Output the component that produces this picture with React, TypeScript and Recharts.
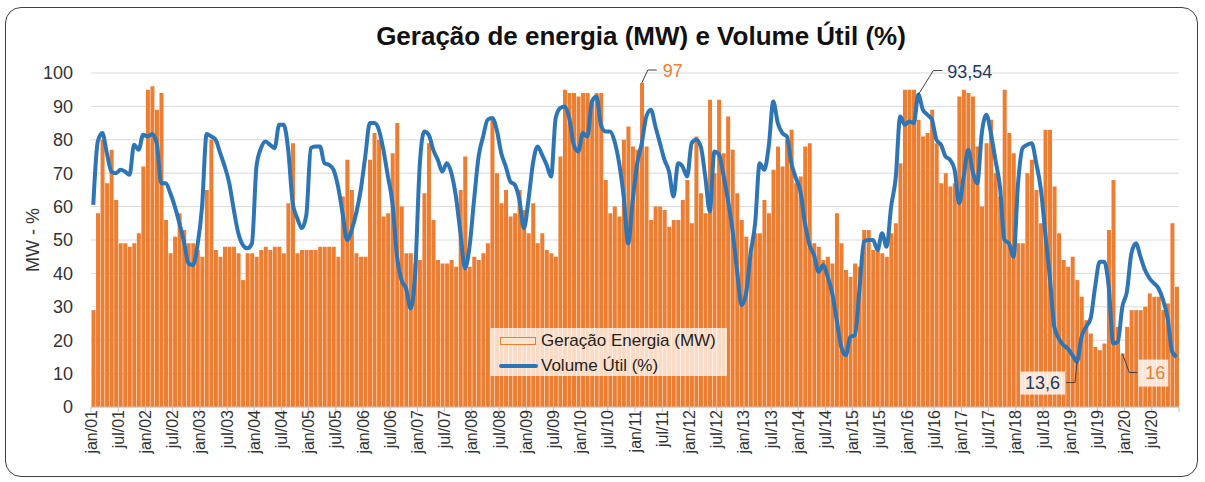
import {
	ComposedChart, Bar, Line, XAxis, YAxis, CartesianGrid, Legend, ReferenceDot, Label
} from 'recharts'

const meses = ['jan', 'fev', 'mar', 'abr', 'mai', 'jun', 'jul', 'ago', 'set', 'out', 'nov', 'dez']
const anos = ['01', '02', '03', '04', '05', '06', '07', '08', '09', '10',
	'11', '12', '13', '14', '15', '16', '17', '18', '19', '20']
const categorias = anos.flatMap(a => meses.map(m => `${m}/${a}`))

// Geração de energia (MW), um ano por linha
const geracao = [
	29, 58, 80, 67, 77, 62, 49, 49, 48, 49, 52, 72,
	95, 96, 89, 94, 56, 46, 51, 58, 53, 49, 49, 47,
	45, 65, 80, 47, 45, 48, 48, 48, 46, 38, 46, 46,
	45, 47, 48, 47, 48, 48, 46, 61, 79, 46, 47, 47,
	47, 47, 48, 48, 48, 48, 45, 63, 74, 65, 46, 45,
	45, 74, 82, 80, 57, 58, 76, 85, 60, 46, 46, 43,
	44, 64, 79, 56, 44, 43, 43, 44, 42, 65, 75, 42,
	45, 44, 46, 49, 86, 70, 61, 65, 57, 58, 65, 59,
	52, 61, 49, 52, 47, 46, 45, 75, 95, 94, 94, 93,
	94, 94, 92, 94, 94, 68, 58, 60, 57, 80, 84, 78,
	77, 97, 78, 56, 60, 60, 59, 54, 56, 56, 62, 68,
	55, 81, 64, 58, 92, 70, 92, 76, 87, 77, 64, 56,
	51, 46, 52, 52, 62, 58, 71, 78, 72, 80, 83, 67,
	69, 78, 79, 49, 48, 44, 45, 43, 58, 49, 41, 39,
	43, 42, 53, 53, 47, 47, 46, 45, 52, 55, 73, 95,
	95, 95, 86, 81, 82, 89, 79, 67, 70, 66, 67, 93,
	95, 94, 93, 78, 60, 79, 86, 70, 63, 95, 82, 76,
	49, 49, 70, 74, 65, 55, 83, 83, 66, 52, 44, 42,
	45, 38, 33, 26, 22, 18, 17, 19, 53, 68, 24, 16,
	24, 29, 29, 29, 30, 34, 33, 33, 29, 31, 55, 36,
]

// Volume útil (%)
const volume = [
	60.5, 79.5, 82, 76, 70.5, 70, 71, 70.5, 69.5, 78.5, 77, 81.5,
	81, 81.7, 79, 67, 67, 64, 60, 55, 49.5, 43, 42.5, 48.5,
	60, 81.7, 81, 80, 76, 72, 67, 59, 52, 48.5, 47.5, 49,
	72, 77.5, 79.5, 78.5, 77.5, 84.5, 84.5, 77, 61, 56.5, 53.5, 57.5,
	77.5, 78, 78, 73, 72.5, 71, 66, 58, 50, 53, 58, 65,
	75, 85, 85, 83, 77, 69, 61, 45, 38, 35.5, 29.5, 40,
	72, 82.5, 81.5, 77, 74, 70.5, 73, 70, 63, 52, 41.5, 48,
	62, 75, 81, 86, 86.5, 83, 76, 72, 67.5, 66.5, 62, 53.5,
	62, 73, 78, 75.5, 72.5, 69, 86.5, 89.5, 90, 86.5, 78.5, 76.5,
	82, 81, 91.5, 93, 84.5, 82.5, 82.5, 79.5, 73, 63, 49, 62,
	73, 79, 87, 89, 84, 79, 74, 70.5, 63, 73, 72, 69,
	79, 80, 78, 69, 58.5, 76.5, 75.7, 69.5, 62, 53, 41, 30.5,
	34, 46, 55, 73, 71, 78, 91.5, 85, 82, 81, 73, 68.5,
	64.5, 55, 48.5, 45.5, 40.5, 42.5, 39, 34, 26, 18, 15.5, 21,
	21.5, 35, 49.5, 50, 50, 47, 52, 48, 60, 68.5, 87, 84.5,
	85.5, 85, 93.54, 89, 87.5, 86, 80, 78.5, 75, 74, 71, 61,
	69, 77, 70.5, 67, 82, 87.5, 82, 74, 66, 50, 49, 45,
	67, 77.5, 78.5, 79, 73, 65.5, 52, 39, 24, 20.5, 18.5, 17.5,
	15.5, 13.6, 21, 24, 26.5, 36, 43.5, 43.5, 36, 19, 19.5, 30,
	34.5, 46, 49, 45, 41, 38.5, 37, 35.5, 32, 26.5, 16.5, 15,
]

const yTicks = [0, 10, 20, 30, 40, 50, 60, 70, 80, 90, 100]

const LARANJA = '#ED7D31'
const AZUL = '#2E75B6'
const AZUL_ESCURO = '#203864'
const FONTE = '"Liberation Sans", Arial, sans-serif'

const dados = categorias.map((mes, i) => ({
	x: i + 0.5,
	mes,
	geracao: geracao[i],
	volume: volume[i],
}))

// ticks a cada 6 meses (jan e jul), mais o fim do eixo
const xTicks = categorias.map((_, i) => i).filter(i => i % 6 === 0).concat(categorias.length)

const TickX = (props: any) => {
	const { x, y, payload } = props
	const rotulo = categorias[payload.value]
	if (!rotulo) return null
	const yy = y - 2
	return (
		<text
			x={x}
			y={yy}
			transform={`rotate(-90 ${x} ${yy})`}
			textAnchor="end"
			dominantBaseline="central"
			fontSize={16}
			fill="#333"
			fontFamily={FONTE}
		>
			{rotulo}
		</text>
	)
}

// rótulo com linha de chamada
const chamada = (texto: string, cor: string, pontos: number[][], tx: number, ty: number, ancora: 'start' | 'end', caixa?: number[]) =>
	(props: any) => {
		const { cx, cy } = props
		if (cx == null || cy == null) return <g />
		const pts = pontos.map(([dx, dy]) => `${cx + dx},${cy + dy}`).join(' ')
		return (
			<g>
				{caixa && (
					<rect x={cx + caixa[0]} y={cy + caixa[1]} width={caixa[2]} height={caixa[3]} fill="#fff" fillOpacity={0.8} />
				)}
				<polyline points={pts} fill="none" stroke="#404040" strokeWidth={1} />
				<text x={cx + tx} y={cy + ty} textAnchor={ancora} dominantBaseline="central" fontSize={18} fill={cor} fontFamily={FONTE}>
					{texto}
				</text>
			</g>
		)
	}

const Legenda = () => (
	<div style={{
		background: 'rgba(255,255,255,0.72)',
		width: 237,
		height: 48,
		fontFamily: FONTE,
		fontSize: 17,
		color: '#222',
		position: 'relative',
	}}>
		<div style={{ position: 'absolute', left: 10, top: 9, width: 34, height: 6, border: `1.5px solid ${LARANJA}`, background: '#FCE3D2' }} />
		<div style={{ position: 'absolute', left: 51, top: 3, lineHeight: '20px', whiteSpace: 'nowrap' }}>Geração Energia (MW)</div>
		<div style={{ position: 'absolute', left: 9, top: 36, width: 39, height: 4, background: AZUL, borderRadius: 2 }} />
		<div style={{ position: 'absolute', left: 51, top: 28, lineHeight: '20px', whiteSpace: 'nowrap' }}>Volume Útil (%)</div>
	</div>
)

export default function App() {
	return (
		<div style={{ position: 'absolute', left: 0, top: 0, width: 1205, height: 482, background: '#fff' }}>
			<div style={{
				position: 'absolute', left: 5, top: 7, width: 1193, height: 470,
				border: '1.5px solid #404040', borderRadius: 16, boxSizing: 'border-box',
			}} />
			<div style={{
				position: 'absolute', left: 0, top: 20, width: 1282, textAlign: 'center',
				fontFamily: FONTE, fontWeight: 'bold', fontSize: 26, color: '#111', lineHeight: '32px',
			}}>
				Geração de energia (MW) e Volume Útil (%)
			</div>
			<div style={{ position: 'absolute', left: 0, top: 0 }}>
				<ComposedChart
					width={1205}
					height={482}
					data={dados}
					margin={{ top: 73, right: 26, bottom: 15, left: 0 }}
					barCategoryGap="11%"
				>
					<CartesianGrid vertical={false} stroke="#D9D9D9" />
					<XAxis
						dataKey="x"
						type="number"
						domain={[0, categorias.length]}
						ticks={xTicks}
						interval={0}
						height={60}
						tickSize={5}
						tickMargin={0}
						tick={<TickX />}
						stroke="#BFBFBF"
						allowDataOverflow
					/>
					<YAxis
						domain={[0, 100]}
						ticks={yTicks}
						width={91}
						axisLine={false}
						tickLine={false}
						tickSize={6}
						tickMargin={12}
						tick={{ fontSize: 18, fill: '#333', fontFamily: FONTE }}
					>
						<Label
							content={(p: any) => {
								const vb = p.viewBox || { x: 0, y: 73, height: 334 }
								const cx = vb.x + 33
								const cy = vb.y + vb.height / 2
								return (
									<text x={cx} y={cy} transform={`rotate(-90 ${cx} ${cy})`} textAnchor="middle" dominantBaseline="central" fontSize={18} fill="#333" fontFamily={FONTE}>
										MW - %
									</text>
								)
							}}
						/>
					</YAxis>
					<Bar dataKey="geracao" name="Geração Energia (MW)" fill={LARANJA} isAnimationActive={false} />
					<Line
						dataKey="volume"
						name="Volume Útil (%)"
						type="monotone"
						stroke={AZUL}
						strokeWidth={4}
						dot={false}
						activeDot={false}
						isAnimationActive={false}
					/>
					<ReferenceDot x={dados[121].x} y={geracao[121]} r={0}
						shape={chamada('97', LARANJA, [[0, 0], [6, -13], [15, -13]], 21, -12, 'start')} />
					<ReferenceDot x={dados[182].x} y={volume[182]} r={0}
						shape={chamada('93,54', AZUL_ESCURO, [[0, 0], [15, -24], [24, -24]], 29, -23, 'start')} />
					<ReferenceDot x={dados[217].x} y={volume[217]} r={0}
						shape={chamada('13,6', AZUL_ESCURO, [[0, 0], [-2, 21], [-11, 21]], -17, 21, 'end', [-57, 10, 45, 23])} />
					<ReferenceDot x={dados[227].x} y={geracao[227]} r={0}
						shape={chamada('16', LARANJA, [[0, 0], [7, 19], [15, 19]], 23, 19, 'start', [16, 6, 30, 27])} />
					<Legend
						layout="horizontal"
						verticalAlign="middle"
						align="center"
						content={<Legenda />}
						wrapperStyle={{ left: 490, top: 328, width: 237, height: 48 }}
					/>
				</ComposedChart>
			</div>
		</div>
	)
}
